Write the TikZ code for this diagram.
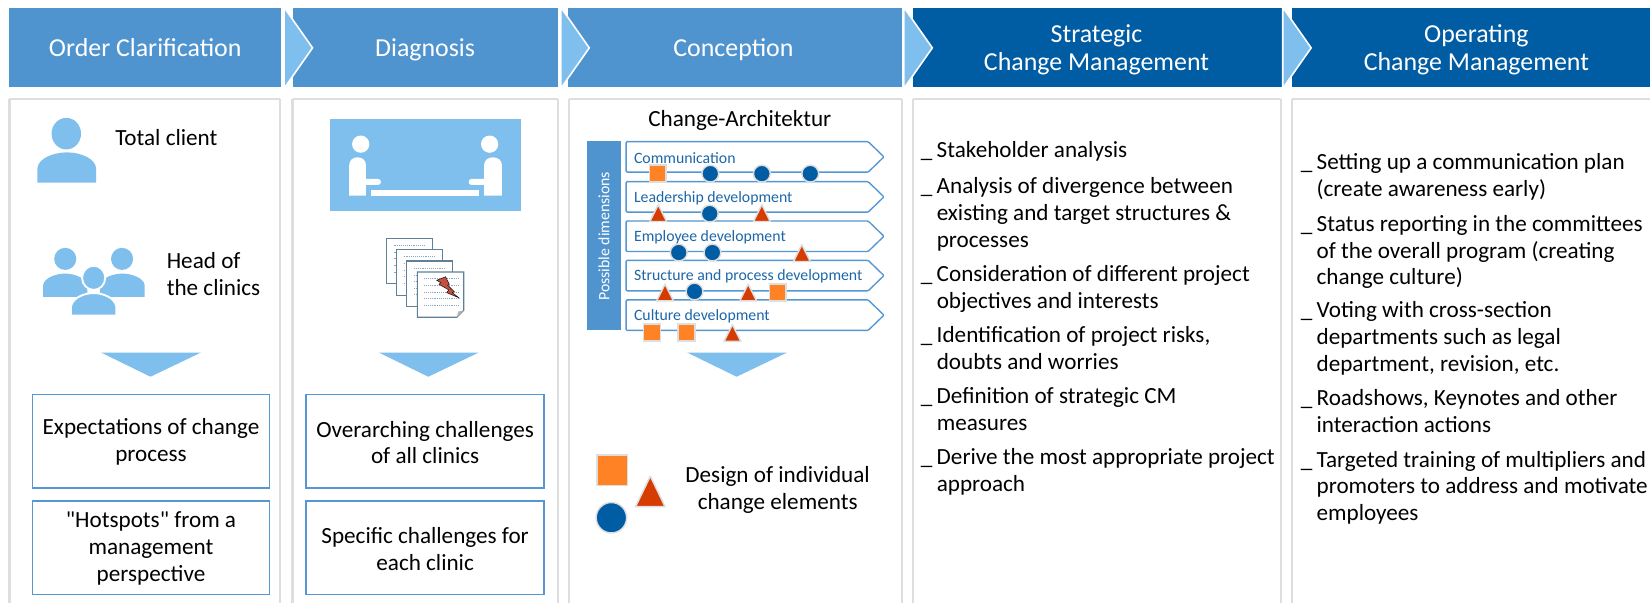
\documentclass[tikz,border=0pt]{standalone}
\usepackage{fontspec}
\setmainfont{Carlito}
\newfontfamily\plainq{Carlito}
\definecolor{hmid}{HTML}{5094CF}
\definecolor{hdark}{HTML}{005CA3}
\definecolor{hlight}{HTML}{7FBFEE}
\definecolor{framec}{HTML}{DEDEDE}
\definecolor{boxc}{HTML}{5597D2}
\definecolor{orng}{HTML}{FF8225}
\definecolor{redc}{HTML}{D63B00}
\definecolor{rowt}{HTML}{1D67A8}
\definecolor{docline}{HTML}{5F8098}
\definecolor{docdot}{HTML}{8AA6C4}
\definecolor{bolt}{HTML}{C0503F}
\newcommand{\fs}[2]{\fontsize{#1}{#2}\selectfont}
\tikzset{
  x=1pt,y=-1pt,
  hdr/.style={fill=#1,draw=none},
  hdrtext/.style={text=white,align=center,font=\fs{24.6}{27}},
  framebox/.style={draw=framec,line width=2pt,fill=white},
  chev/.style={fill=hlight,draw=white,line width=1.5pt},
  downarr/.style={fill=hlight,draw=none},
  person/.style={fill=hlight,draw=none},
  personw/.style={fill=hlight,draw=white,line width=1.8pt},
  txt/.style={text=black,align=left,font=\fs{22}{25.5}},
  ctr/.style={text=black,align=center,font=\fs{22}{25.5}},
  outbox/.style={draw=boxc,line width=1.6pt,fill=white},
  rowshape/.style={draw=boxc,line width=1.3pt,fill=white,rounded corners=1pt},
  rowlab/.style={text=rowt,anchor=west,font=\fs{15}{18}},
  bull/.style={text=black,align=left,anchor=north west,inner xsep=0pt,font=\fs{22}{25.5}},
  mq/.style={fill=orng,draw=framec,line width=1.4pt},
  mc/.style={fill=hdark,draw=framec,line width=1.4pt},
  mt/.style={fill=redc,draw=framec,line width=1.4pt,line join=round},
  docp/.style={draw=docline,fill=white,line width=1pt},
  docd/.style={docdot,line width=.8pt,densely dotted},
}
\newcommand{\mksq}[3]{\draw[mq] (#1-#3,#2-#3) rectangle (#1+#3,#2+#3);}
\newcommand{\mkci}[3]{\draw[mc] (#1,#2) circle[radius=#3];}
\newcommand{\mktr}[4]{\draw[mt] (#1,#2-#4) -- (#1+#3,#2+#4) -- (#1-#3,#2+#4) -- cycle;}
\newcommand{\hdrbar}[6]{\fill[hdr=#1] (#2,8) rectangle (#3,83);\node[hdrtext] (#4) at (#5,47.5) {#6\vphantom{g}};}
\newcommand{\colframe}[3]{\draw[framebox] (#1,94) -- (#1,575);\draw[framebox] (#1,94) -- (#2,94);\draw[framebox] (#2,94) -- (#2,575);\coordinate (#3) at (#1,94);}
\newcommand{\onerow}[3]{\draw[rowshape] (595,#1) -- (825,#1) -- (840,#1+14.5) -- (825,#1+29) -- (595,#1+29) -- cycle;
  \node[rowlab] (#2) at (599,#1+15.5) {#3};}
\newcommand{\us}{\makebox[15pt][l]{\_}}
\newcommand{\cn}{\hspace*{15pt}}
\begin{document}
\begin{tikzpicture}
\useasboundingbox (0,0) rectangle (1568,573);
\fill[white] (0,0) rectangle (1568,573);
% headers
\hdrbar{hmid}{9}{267.5}{h1}{138}{Order Clarification}
\hdrbar{hmid}{278}{530.5}{h2}{404}{Diagnosis}
\hdrbar{hmid}{540}{857}{h3}{697}{Conception}
\hdrbar{hdark}{868}{1218}{h4}{1042}{Strategic\\Change Management}
\hdrbar{hdark}{1228}{1568}{h5}{1403}{Operating\\Change Management}
% chevrons
\foreach \cx in {270,533,859,1219}{
  \draw[chev] (\cx,7) -- (\cx+27,45.5) -- (\cx,84) -- cycle;
}
% frames
\colframe{9}{266}{f1}
\colframe{278}{530}{f2}
\colframe{541}{857}{f3}
\colframe{868}{1217}{f4}
\colframe{1228}{1572}{f5}
% col 1
\fill[person] (63,127) ellipse (14 and 15);
\fill[person] (35.6,173.6) -- (35.6,160) .. controls (36,151) and (50,144.8) .. (63.5,144.8) .. controls (77,144.8) and (91,151) .. (91.3,160) -- (91.3,173.6) -- cycle;
\node[txt,anchor=west] (t1) at (106,131) {Total client};
\fill[person] (62,246) circle[radius=10.5];
\fill[person] (116,246) circle[radius=10.5];
\fill[person] (41,282) -- (41,271) .. controls (42,264) and (53,260) .. (62,260) .. controls (70,260) and (82,264) .. (83,271) -- (83,282) -- cycle;
\fill[person] (137.5,282) -- (137.5,271) .. controls (136.5,264) and (125,260) .. (116,260) .. controls (108,260) and (96,264) .. (95,271) -- (95,282) -- cycle;
\draw[personw] (89,264) ellipse (11 and 11.5);
\draw[personw] (67.5,300) -- (67.5,291) .. controls (69,283) and (80,278.5) .. (89,278.5) .. controls (98,278.5) and (109,283) .. (110.5,291) -- (110.5,300) -- cycle;
\node[txt,anchor=north west] (t2) at (155,236.5) {Head of\\the clinics};
\fill[downarr] (96,335) -- (191,335) -- (143,358) -- cycle;
\draw[outbox] (31,375) rectangle (256,464);
\node[ctr] (o1) at (143.5,420) {Expectations of change\\process};
\draw[outbox] (31,476) rectangle (256,565);
\node[ctr] (o2) at (143.5,521) {{\plainq "}Hotspots{\plainq "} from a\\management\\perspective};
% col 2
\fill[hlight] (313.5,113) rectangle (495.5,200.7);
\fill[white] (342.8,137) circle[radius=8.2];
\fill[white] (465.3,137) circle[radius=8.2];
\fill[white] (331.8,186) -- (331.8,157) .. controls (331.8,147) and (347.8,147) .. (347.8,157) -- (347.8,170) -- (359,170) .. controls (363,170) and (363,175.8) .. (359,175.8) -- (347.8,175.8) -- (347.8,186) -- cycle;
\fill[white] (477,186) -- (477,157) .. controls (477,147) and (460,147) .. (460,157) -- (460,170) -- (448.3,170) .. controls (444.3,170) and (444.3,175.8) .. (448.3,175.8) -- (460,175.8) -- (460,186) -- cycle;
\fill[white] (352.2,180.8) rectangle (455.2,186);
\foreach \dx/\dy in {367/226.3,376.6/237,386.4/248}{
  \draw[docp] (\dx,\dy) rectangle (\dx+44,\dy+43.5);
  \foreach \k in {0,1,2,3,4}{\draw[docd] (\dx+7,\dy+7+6.3*\k) -- (\dx+37,\dy+7+6.3*\k);}
}
\draw[docp] (396.6,258.5) -- (440.7,258.5) -- (440.7,295) -- (434.2,301.5) -- (396.6,301.5) -- cycle;
\foreach \k in {0,1,2,3,4}{\draw[docd] (403,265+6.3*\k) -- (436,265+6.3*\k);}
\fill[black!30!white] (434.2,301.5) -- (435.5,296) -- (440.7,295) -- cycle;
\draw[black,fill=bolt,line width=.4pt] (415,266.3) -- (423.5,263) -- (427,270.2) -- (425.4,271) -- (431.7,277.2) -- (429.8,278.1) -- (436,282.9) -- (424.5,278.1) -- (426.4,275.5) -- (417.2,270.2) -- (418.8,268.7) -- cycle;
\fill[downarr] (360,335) -- (455,335) -- (407,358) -- cycle;
\draw[outbox] (291,375) rectangle (517,464);
\node[ctr] (o3) at (404,420.5) {Overarching challenges\\of all clinics};
\draw[outbox] (291,476) rectangle (517,565);
\node[ctr] (o4) at (404,522) {Specific challenges for\\each clinic};
% col 3
\node[ctr] (ca) at (703,114) {Change-Architektur};
\fill[hmid] (558,134) rectangle (590,314);
\node[text=white,rotate=90,font=\fs{15}{18}] (pd) at (574,224.5) {Possible dimensions};
\onerow{134.6}{r1}{Communication}
\onerow{172.6}{r2}{Leadership development}
\onerow{210}{r3}{Employee development}
\onerow{247.4}{r4}{Structure and process development}
\onerow{285}{r5}{Culture development}
\mksq{625}{165}{8}\mkci{675}{165}{8}\mkci{724}{165}{8}\mkci{770}{165}{8}
\mktr{625.5}{202.5}{8}{8}\mkci{674.5}{203}{8}\mktr{724}{202.5}{8}{8}
\mkci{645}{240}{8}\mkci{677}{240}{8}\mktr{762}{240.5}{8}{8}
\mktr{632}{278}{8}{8}\mkci{660}{277}{8}\mktr{711}{278}{8}{8}\mksq{739}{278}{8}
\mksq{619.5}{316}{8}\mksq{652.5}{316}{8}\mktr{696}{316.5}{8}{8}
\fill[downarr] (653,335) -- (748,335) -- (700,358) -- cycle;
\mksq{582}{447}{14.5}
\mktr{618}{467}{14}{14.5}
\mkci{581}{492}{14.5}
\node[ctr] (ds) at (739,465.5) {Design of individual\\change elements};
% col 4
\node[bull] (s1) at (875,131) {\us Stakeholder analysis};
\node[bull] (s2) at (875,165) {\us Analysis of divergence between\\\cn existing and target structures \&\\\cn processes};
\node[bull] (s3) at (875,249) {\us Consideration of different project\\\cn objectives and interests};
\node[bull] (s4) at (875,307) {\us Identification of project risks,\\\cn doubts and worries};
\node[bull] (s5) at (875,365) {\us Definition of strategic CM\\\cn measures};
\node[bull] (s6) at (875,423) {\us Derive the most appropriate project\\\cn approach};
% col 5
\node[bull] (u1) at (1236,142) {\us Setting up a communication plan\\\cn (create awareness early)};
\node[bull] (u2) at (1236,201) {\us Status reporting in the committees\\\cn of the overall program (creating\\\cn change culture)};
\node[bull] (u3) at (1236,283) {\us Voting with cross-section\\\cn departments such as legal\\\cn department, revision, etc.};
\node[bull] (u4) at (1236,367) {\us Roadshows, Keynotes and other\\\cn interaction actions};
\node[bull] (u5) at (1236,425) {\us Targeted training of multipliers and\\\cn promoters to address and motivate\\\cn employees};
\end{tikzpicture}
\end{document}
